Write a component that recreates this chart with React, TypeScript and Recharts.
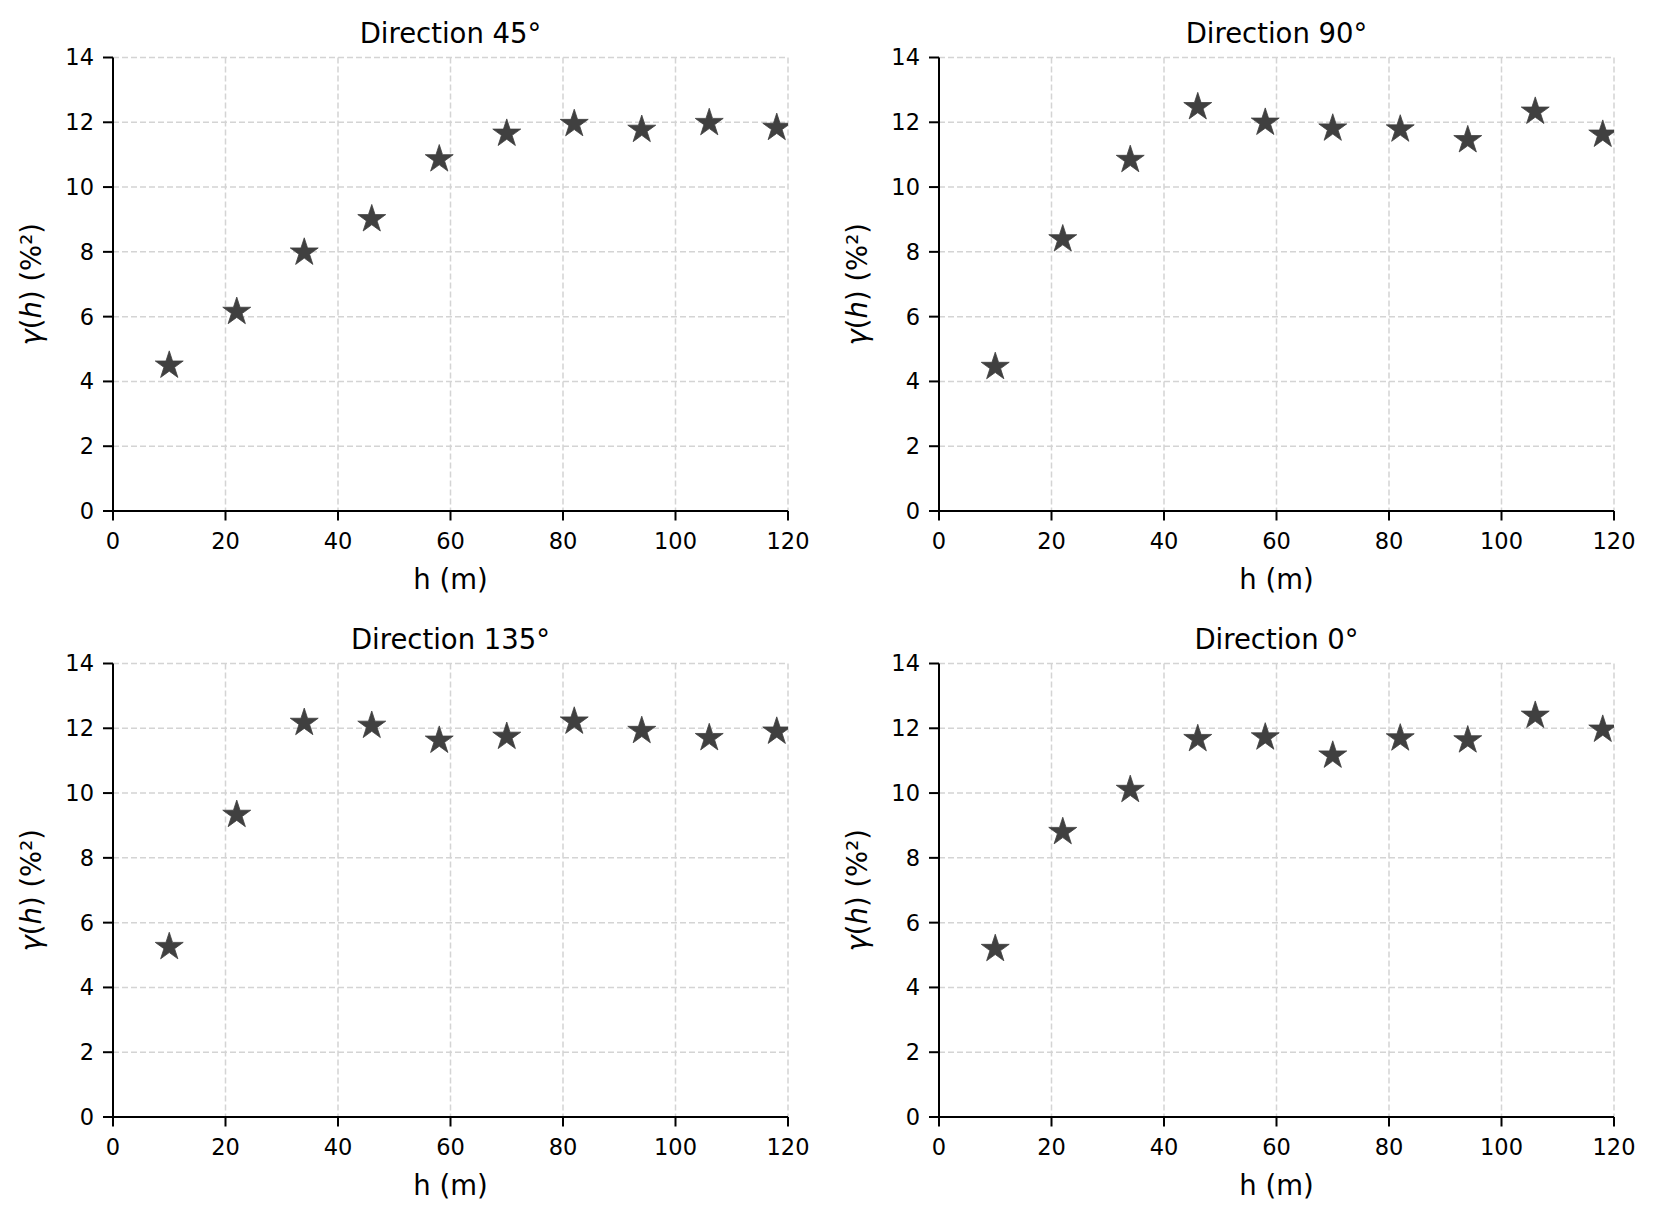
import React from 'react';
import { ScatterChart, Scatter, XAxis, YAxis, CartesianGrid, Label } from 'recharts';

const lagDistances = [10, 22, 34, 46, 58, 70, 82, 94, 106, 118];
const gamma45 = [4.49, 6.15, 7.98, 9.01, 10.86, 11.65, 11.95, 11.77, 11.98, 11.83];
const gamma90 = [4.45, 8.39, 10.84, 12.47, 11.99, 11.81, 11.78, 11.45, 12.33, 11.62];
const gamma135 = [5.25, 9.33, 12.17, 12.08, 11.62, 11.74, 12.21, 11.92, 11.7, 11.9];
const gamma0 = [5.19, 8.8, 10.1, 11.67, 11.72, 11.16, 11.69, 11.63, 12.39, 11.96];
const panelTitles = ['Direction 45°', 'Direction 90°', 'Direction 135°', 'Direction 0°'];
const xTicks = [0, 20, 40, 60, 80, 100, 120];
const yTicks = [0, 2, 4, 6, 8, 10, 12, 14];

const FONT = 'DejaVu Sans, Verdana, sans-serif';
const MARK = '#404040';

const panels = [
  { title: panelTitles[0], values: gamma45, left: 0, top: 0 },
  { title: panelTitles[1], values: gamma90, left: 826, top: 0 },
  { title: panelTitles[2], values: gamma135, left: 0, top: 605.5 },
  { title: panelTitles[3], values: gamma0, left: 826, top: 605.5 },
];

const CHART_W = 828;
const CHART_H = 600;
const MARGIN = { top: 57.5, right: 40, bottom: 0, left: 0 };
const YAXIS_W = 113;
const XAXIS_H = 89;

function StarShape(props: any) {
  const { cx, cy } = props;
  if (cx == null || cy == null) return null;
  const R = 14.7;
  const r = R * 0.381966;
  const pts: string[] = [];
  for (let i = 0; i < 10; i++) {
    const rad = i % 2 === 0 ? R : r;
    const a = -Math.PI / 2 + (i * Math.PI) / 5;
    pts.push(`${(cx + rad * Math.cos(a)).toFixed(2)},${(cy + rad * Math.sin(a)).toFixed(2)}`);
  }
  return <polygon points={pts.join(' ')} fill={MARK} stroke={MARK} strokeWidth={0.8} strokeLinejoin="miter" />;
}

function XLabelContent(props: any) {
  const vb = props.viewBox || {};
  const x = (vb.x || 0) + (vb.width || 0) / 2;
  const y = (vb.y || 0) + 78;
  return (
    <text x={x} y={y} textAnchor="middle" fontFamily={FONT} fontSize={27.5} fill="#000">
      h (m)
    </text>
  );
}

function YLabelContent(props: any) {
  const vb = props.viewBox || {};
  const x = (vb.x || 0) + 40.5;
  const y = (vb.y || 0) + (vb.height || 0) / 2;
  return (
    <text
      x={x}
      y={y}
      transform={`rotate(-90, ${x}, ${y})`}
      textAnchor="middle"
      fontFamily={FONT}
      fontSize={27.5}
      fill="#000"
    >
      <tspan fontStyle="italic">γ</tspan>
      <tspan>(</tspan>
      <tspan fontStyle="italic">h</tspan>
      <tspan>) (%²)</tspan>
    </text>
  );
}

function Panel({ title, values, left, top }: { title: string; values: number[]; left: number; top: number }) {
  const data = lagDistances.map((h, i) => ({ h, g: values[i] }));
  const plotLeft = MARGIN.left + YAXIS_W;
  const plotRight = CHART_W - MARGIN.right;
  const titleX = (plotLeft + plotRight) / 2;
  return (
    <div style={{ position: 'absolute', left, top, width: CHART_W, height: CHART_H }}>
      <ScatterChart width={CHART_W} height={CHART_H} margin={MARGIN}>
        <CartesianGrid stroke="#d4d4d4" strokeWidth={1.5} strokeDasharray="6 3" />
        <XAxis
          type="number"
          dataKey="h"
          domain={[0, 120]}
          ticks={xTicks}
          interval={0}
          height={XAXIS_H}
          tickSize={9.5}
          tickMargin={12.5}
          axisLine={{ stroke: '#000', strokeWidth: 2 }}
          tickLine={{ stroke: '#000', strokeWidth: 2 }}
          tick={{ fill: '#000', fontSize: 22.5, fontFamily: FONT }}
          allowDataOverflow
        >
          <Label content={XLabelContent} />
        </XAxis>
        <YAxis
          type="number"
          dataKey="g"
          domain={[0, 14]}
          ticks={yTicks}
          interval={0}
          width={YAXIS_W}
          tickSize={10}
          tickMargin={9}
          axisLine={{ stroke: '#000', strokeWidth: 2 }}
          tickLine={{ stroke: '#000', strokeWidth: 2 }}
          tick={{ fill: '#000', fontSize: 22.5, fontFamily: FONT }}
          allowDataOverflow
        >
          <Label content={YLabelContent} />
        </YAxis>
        <Scatter data={data} shape={StarShape} isAnimationActive={false} />
      </ScatterChart>
      <svg
        width={CHART_W}
        height={60}
        style={{ position: 'absolute', left: 0, top: 0, pointerEvents: 'none' }}
      >
        <text x={titleX} y={42.6} textAnchor="middle" fontFamily={FONT} fontSize={27.5} fill="#000">
          {title}
        </text>
      </svg>
    </div>
  );
}

export default function App() {
  return (
    <div style={{ position: 'absolute', left: 0, top: 0, width: 1657, height: 1219, background: '#fff' }}>
      {panels.map((p) => (
        <Panel key={p.title} title={p.title} values={p.values} left={p.left} top={p.top} />
      ))}
    </div>
  );
}
